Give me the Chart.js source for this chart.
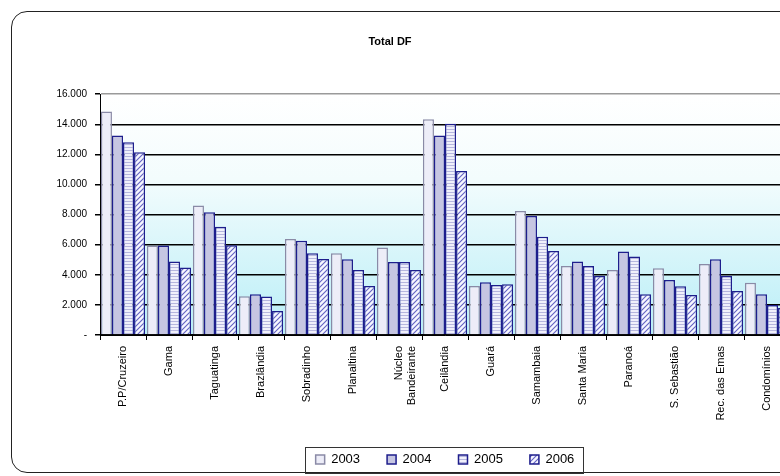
<!DOCTYPE html>
<html>
<head>
<meta charset="utf-8">
<script src="https://cdn.jsdelivr.net/npm/chart.js@4.4.0/dist/chart.umd.min.js"></script>
<style>
  html, body { margin: 0; padding: 0; width: 780px; height: 476px; overflow: hidden; background: #fff; }
  #frame { position: absolute; left: 11px; top: 11px; width: 900px; height: 460px; border: 1.5px solid #222; border-radius: 16px; }
  #wrap { position: absolute; left: -10px; top: 12px; width: 800px; height: 464px; }
</style>
</head>
<body>
<div id="frame"></div>
<div id="wrap"><canvas id="totaldf"></canvas></div>
<script>
// Total DF 2003 - 2006
const regions = [
  "P.P/Cruzeiro", "Gama", "Taguatinga", "Brazlândia", "Sobradinho", "Planaltina",
  ["Núcleo", "Bandeirante"], "Ceilândia", "Guará", "Samambaia", "Santa Maria",
  "Paranoá", "S. Sebastião", "Rec. das Emas", "Condomínios"
];
const years = ["2003", "2004", "2005", "2006"];
const values2003 = [14850, 5940, 8600, 2570, 6380, 5430, 5810, 14340, 3260, 8240, 4590, 4320, 4430, 4720, 3480];
const values2004 = [13250, 5940, 8160, 2700, 6270, 5030, 4850, 13250, 3500, 7910, 4880, 5540, 3660, 5030, 2700];
const values2005 = [12810, 4880, 7200, 2550, 5430, 4320, 4850, 14030, 3320, 6520, 4590, 5210, 3240, 3920, 1990];
const values2006 = [12140, 4480, 5960, 1600, 5050, 3260, 4320, 10900, 3370, 5580, 3920, 2700, 2660, 2930, 1800];
const yTickLabels = ["-", "2.000", "4.000", "6.000", "8.000", "10.000", "12.000", "14.000", "16.000"];

// fill patterns like the excel ones
function makePattern(size, bg, draw) {
  const c = document.createElement('canvas');
  c.width = size; c.height = size;
  const x = c.getContext('2d');
  x.fillStyle = bg;
  x.fillRect(0, 0, size, size);
  draw(x);
  return x.createPattern(c, 'repeat');
}
const stripes = makePattern(3, '#f0f0fb', x => {
  x.fillStyle = '#b6b6de';
  x.fillRect(0, 0, 3, 1);
});
const hatch = makePattern(5, '#f6f6ff', x => {
  x.strokeStyle = '#6262c2';
  x.lineWidth = 1.1;
  x.beginPath();
  x.moveTo(-1, 6); x.lineTo(6, -1);
  x.moveTo(-1, 1); x.lineTo(1, -1);
  x.moveTo(4, 6); x.lineTo(6, 4);
  x.stroke();
});

const plotBackground = {
  id: 'plotBackground',
  beforeDraw(chart) {
    const {ctx, chartArea: a} = chart;
    const g = ctx.createLinearGradient(0, a.top, 0, a.bottom);
    g.addColorStop(0, '#ffffff');
    g.addColorStop(0.35, '#f3fcfd');
    g.addColorStop(1, '#b9eef7');
    ctx.save();
    ctx.fillStyle = g;
    ctx.fillRect(a.left, a.top, a.right - a.left, a.bottom - a.top);
    ctx.restore();
  }
};

const legendBox = {
  id: 'legendBox',
  afterDraw(chart) {
    const hb = chart.legend.legendHitBoxes;
    if (!hb || !hb.length) return;
    const left = Math.min(...hb.map(h => h.left)) - 11;
    const right = Math.max(...hb.map(h => h.left + h.width)) + 8;
    const top = Math.min(...hb.map(h => h.top)) - 6;
    const bottom = Math.max(...hb.map(h => h.top + h.height)) + 7;
    const ctx = chart.ctx;
    ctx.save();
    ctx.strokeStyle = '#333';
    ctx.lineWidth = 1;
    ctx.strokeRect(Math.round(left) + 0.5, Math.round(top) + 0.5, Math.round(right - left), Math.round(bottom - top));
    ctx.restore();
  }
};

const totalDF = document.getElementById('totaldf').getContext('2d');
const totalDFChart = new Chart(totalDF, {
  type: 'bar',
  data: {
    labels: regions,
    datasets: [
      { label: years[0], data: values2003, backgroundColor: '#ededf8', borderColor: '#8a8aa6', borderWidth: 1.5 },
      { label: years[1], data: values2004, backgroundColor: '#c6c6e2', borderColor: '#1e1e8c', borderWidth: 1.5 },
      { label: years[2], data: values2005, backgroundColor: stripes, borderColor: '#1e1e8c', borderWidth: 1.5 },
      { label: years[3], data: values2006, backgroundColor: hatch, borderColor: '#1e1e8c', borderWidth: 1.5 },
    ],
  },
  options: {
    responsive: true,
    maintainAspectRatio: false,
    animation: false,
    datasets: { bar: { categoryPercentage: 0.96, barPercentage: 1.0 } },
    layout: { padding: 0 },
    plugins: {
      title: {
        display: true,
        text: 'Total DF',
        color: '#000',
        font: { family: 'Arial, "Liberation Sans", sans-serif', size: 11, weight: 'bold' },
        padding: { top: 23, bottom: 46 },
      },
      legend: {
        position: 'bottom',
        fullSize: false,
        labels: {
          color: '#000',
          font: { family: 'Arial, "Liberation Sans", sans-serif', size: 13 },
          boxWidth: 9,
          boxHeight: 9,
          padding: 27,
        },
      },
      tooltip: { enabled: false },
    },
    scales: {
      x: {
        afterFit: s => { s.height = 91; },
        grid: { display: true, drawOnChartArea: false, color: '#000', tickLength: 5, offset: true },
        border: { color: '#000', width: 1 },
        ticks: {
          autoSkip: false,
          minRotation: 90,
          maxRotation: 90,
          padding: 6,
          color: '#000',
          font: { family: 'Arial, "Liberation Sans", sans-serif', size: 11 },
        },
      },
      y: {
        min: 0,
        max: 16000,
        afterFit: s => { s.width = 110; },
        grid: {
          color: c => (c.tick && c.tick.value === 16000 ? '#9a9a9a' : '#000'),
          lineWidth: 1.5,
          tickColor: '#000',
          tickLength: 5,
        },
        border: { color: '#000', width: 1 },
        ticks: {
          stepSize: 2000,
          padding: 8,
          color: '#000',
          font: { family: 'Arial, "Liberation Sans", sans-serif', size: 10 },
          callback: (v, i) => yTickLabels[i],
        },
      },
    },
  },
  plugins: [plotBackground, legendBox],
});
</script>
</body>
</html>
